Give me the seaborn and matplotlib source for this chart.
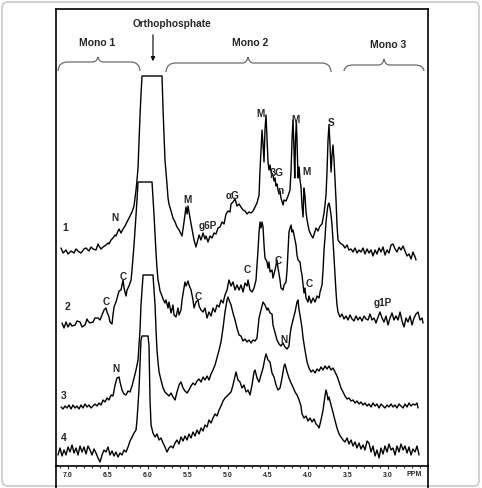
import numpy as np
import pandas as pd
import matplotlib
matplotlib.use("Agg")
import matplotlib.pyplot as plt
import seaborn as sns
from matplotlib.path import Path
from matplotlib.patches import PathPatch, FancyBboxPatch
from matplotlib.lines import Line2D
from matplotlib.ticker import MultipleLocator

# ---------------- data (chemical shift in ppm, stacked intensity) ----------------
ppm1 = [7.088, 7.062, 7.025, 7.000, 6.962, 6.925, 6.900, 6.862, 6.838, 6.800,
        6.775, 6.738, 6.712, 6.688, 6.650, 6.625, 6.612, 6.588, 6.562, 6.525,
        6.500, 6.488, 6.462, 6.438, 6.412, 6.400, 6.375, 6.362, 6.338, 6.312,
        6.288, 6.275, 6.250, 6.225, 6.200, 6.175, 6.150, 6.138, 6.125, 6.112,
        6.100, 6.088, 6.075, 5.825, 5.812, 5.800, 5.788, 5.775, 5.762, 5.750,
        5.738, 5.712, 5.688, 5.662, 5.638, 5.612, 5.588, 5.575, 5.550, 5.525,
        5.512, 5.500, 5.475, 5.450,
        5.425, 5.400, 5.375, 5.362, 5.338, 5.312, 5.288, 5.275, 5.250, 5.225,
        5.200, 5.175, 5.150, 5.125, 5.100, 5.075, 5.050, 5.025, 5.000, 4.975,
        4.962, 4.938, 4.912, 4.888, 4.862, 4.838, 4.812, 4.788, 4.762, 4.738,
        4.712, 4.688, 4.662, 4.638, 4.612, 4.600, 4.588, 4.575, 4.562, 4.550,
        4.538, 4.525, 4.512, 4.500, 4.488, 4.475, 4.462, 4.438, 4.425, 4.412,
        4.400, 4.388, 4.375, 4.362, 4.350, 4.338, 4.312, 4.300, 4.275, 4.250,
        4.225, 4.212, 4.200, 4.188, 4.175, 4.166, 4.156, 4.146, 4.138, 4.125,
        4.112, 4.100, 4.088, 4.075, 4.062, 4.050, 4.038, 4.025, 4.012, 3.988,
        3.962, 3.938, 3.900, 3.875, 3.850, 3.825, 3.800, 3.788, 3.775, 3.762,
        3.750, 3.738, 3.725, 3.712, 3.700, 3.688, 3.675, 3.662, 3.650, 3.638,
        3.625, 3.600, 3.562, 3.538, 3.512, 3.488, 3.462, 3.438, 3.412, 3.388,
        3.362, 3.338, 3.312, 3.288, 3.262, 3.238, 3.212, 3.188, 3.162, 3.138,
        3.112, 3.088, 3.062, 3.038, 3.012, 2.988, 2.962, 2.938, 2.912, 2.888,
        2.862, 2.838, 2.812, 2.788, 2.762, 2.738, 2.712, 2.688, 2.662, 2.650]
int1 = [218, 213, 216, 212, 215, 213, 217, 214, 213, 217,
        218, 215, 219, 217, 216, 222, 220, 217, 219, 221,
        223, 222, 226, 228, 231, 230, 235, 237, 233, 237,
        240, 242, 246, 250, 254, 260, 276, 286, 298, 326,
        351, 371, 390, 390, 356, 331, 306, 294, 281, 268,
        262, 255, 248, 244, 239, 236, 232, 230, 244, 259,
        252, 260, 248, 237,
        226, 219, 227, 231, 226, 233, 227, 230, 224, 230,
        228, 233, 232, 238, 239, 244, 242, 252, 255, 254,
        262, 264, 267, 260, 262, 259, 256, 255, 252, 254,
        253, 255, 259, 263, 271, 296, 316, 336, 321, 304,
        336, 351, 326, 304, 296, 301, 294, 291, 285, 288,
        280, 282, 276, 272, 275, 268, 261, 266, 265, 270,
        276, 296, 326, 346, 316, 288, 326, 345, 326, 288,
        299, 286, 279, 261, 249, 278, 270, 254, 246, 236,
        231, 228, 238, 235, 240, 242, 253, 261, 271, 296,
        326, 341, 321, 294, 311, 321, 306, 286, 266, 241,
        226, 223, 221, 218, 221, 216, 217, 214, 218, 213,
        216, 214, 218, 212, 217, 213, 216, 210, 216, 212,
        218, 214, 219, 211, 216, 213, 221, 222, 217, 214,
        219, 216, 220, 215, 210, 212, 207, 214, 209, 206]

ppm2 = [7.075, 7.050, 7.025, 7.000, 6.975, 6.950, 6.912, 6.888, 6.850, 6.825,
        6.788, 6.762, 6.750, 6.725, 6.688, 6.662, 6.625, 6.600, 6.575, 6.550,
        6.525, 6.512, 6.488, 6.475, 6.450, 6.438, 6.425, 6.400, 6.375, 6.362,
        6.338, 6.312, 6.300, 6.275, 6.262, 6.238, 6.212, 6.200, 6.188, 6.175,
        6.162, 6.150, 6.138, 6.125, 5.950, 5.938, 5.925, 5.912, 5.900, 5.888,
        5.875, 5.862, 5.850, 5.825, 5.812, 5.788, 5.775, 5.750, 5.738, 5.712,
        5.688, 5.675, 5.650, 5.625, 5.612, 5.588, 5.575, 5.550, 5.538, 5.525,
        5.500, 5.488, 5.462, 5.438, 5.425, 5.400, 5.375, 5.362, 5.338, 5.312,
        5.288, 5.262, 5.238, 5.212, 5.188, 5.162, 5.138, 5.112, 5.088, 5.062,
        5.038, 5.012, 4.988, 4.962, 4.938, 4.912, 4.888, 4.862, 4.838, 4.812,
        4.788, 4.762, 4.750, 4.725, 4.700, 4.675, 4.650, 4.625, 4.612, 4.600,
        4.588, 4.575, 4.562, 4.550, 4.538, 4.512, 4.500, 4.488, 4.475, 4.450,
        4.438, 4.412, 4.388, 4.375, 4.350, 4.338, 4.312, 4.300, 4.275, 4.262,
        4.250, 4.238, 4.225, 4.212, 4.200, 4.188, 4.162, 4.150, 4.138, 4.125,
        4.100, 4.088, 4.075, 4.062, 4.050, 4.038, 4.025, 4.000, 3.988, 3.962,
        3.938, 3.912, 3.888, 3.862, 3.850, 3.825, 3.812, 3.800, 3.788, 3.775,
        3.762, 3.750, 3.738, 3.725, 3.712, 3.700, 3.688, 3.675, 3.662, 3.650,
        3.638, 3.625, 3.600, 3.575, 3.550, 3.525, 3.500, 3.475, 3.450, 3.425,
        3.400, 3.375, 3.350, 3.325, 3.300, 3.275, 3.250, 3.225, 3.200, 3.175,
        3.150, 3.125, 3.100, 3.075, 3.050, 3.025, 3.000, 2.975, 2.950, 2.925,
        2.900, 2.875, 2.850, 2.825, 2.800, 2.775, 2.750, 2.725, 2.700, 2.675,
        2.650, 2.625, 2.600, 2.575, 2.562]
int2 = [143, 138, 144, 139, 143, 140, 141, 145, 144, 139,
        141, 147, 145, 143, 144, 148, 148, 146, 151, 156,
        158, 154, 149, 144, 142, 151, 159, 164, 171, 175,
        176, 186, 178, 170, 176, 180, 186, 196, 208, 221,
        236, 251, 266, 284, 284, 268, 251, 231, 213, 198,
        186, 181, 175, 170, 167, 163, 166, 158, 164, 153,
        161, 151, 149, 158, 151, 156, 166, 178, 184, 180,
        185, 181, 176, 166, 158, 164, 166, 160, 156, 154,
        158, 148, 154, 150, 158, 154, 161, 159, 166, 163,
        171, 176, 186, 180, 184, 176, 181, 176, 181, 174,
        183, 180, 186, 176, 174, 178, 186, 216, 234, 244,
        238, 244, 239, 221, 208, 204, 198, 204, 194, 196,
        188, 196, 206, 198, 186, 178, 176, 181, 184, 196,
        216, 234, 238, 241, 234, 236, 226, 221, 211, 206,
        204, 196, 191, 181, 173, 178, 168, 164, 170, 163,
        168, 164, 170, 168, 174, 181, 196, 216, 228, 244,
        254, 261, 263, 258, 251, 241, 226, 208, 191, 174,
        161, 154, 149, 152, 147, 150, 146, 151, 147, 145,
        150, 146, 149, 145, 150, 147, 146, 152, 146, 148,
        143, 149, 154, 148, 144, 150, 141, 148, 153, 146,
        150, 146, 154, 145, 139, 148, 144, 150, 141, 148,
        152, 154, 146, 148, 143]

ppm3 = [7.088, 7.062, 7.038, 7.012, 6.988, 6.962, 6.938, 6.912, 6.888, 6.862,
        6.838, 6.812, 6.788, 6.762, 6.738, 6.712, 6.688, 6.662, 6.638, 6.612,
        6.588, 6.562, 6.538, 6.512, 6.488, 6.462, 6.438, 6.412, 6.388, 6.362,
        6.350, 6.325, 6.300, 6.275, 6.250, 6.225, 6.200, 6.175, 6.150, 6.125,
        6.112, 6.100, 6.088, 6.062, 5.938, 5.925, 5.912, 5.900, 5.888, 5.875,
        5.862, 5.838, 5.812, 5.788, 5.762, 5.738, 5.712, 5.688, 5.662, 5.638,
        5.612, 5.588, 5.562, 5.538, 5.512, 5.488, 5.462, 5.438, 5.412, 5.388,
        5.362, 5.338, 5.312, 5.288, 5.262, 5.238, 5.212, 5.188, 5.162, 5.138,
        5.112, 5.088, 5.062, 5.038, 5.012, 5.000, 4.988, 4.962, 4.938, 4.912,
        4.888, 4.862, 4.838, 4.812, 4.788, 4.762, 4.738, 4.712, 4.688, 4.662,
        4.638, 4.625, 4.612, 4.588, 4.562, 4.538, 4.512, 4.500, 4.475, 4.450,
        4.438, 4.412, 4.388, 4.362, 4.338, 4.312, 4.288, 4.262, 4.238, 4.225,
        4.212, 4.188, 4.162, 4.138, 4.125, 4.112, 4.100, 4.075, 4.062, 4.038,
        4.012, 3.988, 3.962, 3.938, 3.912, 3.888, 3.862, 3.838, 3.812, 3.788,
        3.762, 3.738, 3.712, 3.688, 3.662, 3.638, 3.612, 3.588, 3.562, 3.538,
        3.512, 3.488, 3.462, 3.438, 3.412, 3.388, 3.362, 3.338, 3.312, 3.288,
        3.262, 3.238, 3.212, 3.188, 3.162, 3.138, 3.112, 3.088, 3.062, 3.038,
        3.012, 2.988, 2.962, 2.938, 2.912, 2.888, 2.862, 2.838, 2.812, 2.788,
        2.762, 2.738, 2.712, 2.688, 2.662, 2.638, 2.625]
int3 = [59, 57, 60, 58, 61, 57, 61, 58, 60, 57,
        61, 58, 62, 59, 61, 58, 60, 62, 60, 63,
        61, 66, 64, 68, 66, 71, 70, 81, 88, 89,
        84, 76, 72, 71, 75, 74, 80, 88, 96, 106,
        121, 136, 161, 191, 191, 176, 161, 136, 116, 104,
        94, 86, 78, 74, 72, 70, 73, 69, 66, 74,
        81, 84, 78, 75, 73, 76, 80, 83, 81, 85,
        87, 84, 89, 86, 90, 86, 92, 96, 101, 108,
        116, 124, 138, 154, 166, 169, 166, 161, 153, 146,
        138, 131, 130, 125, 127, 124, 126, 123, 126, 125,
        128, 138, 148, 156, 164, 161, 156, 158, 153, 152,
        141, 133, 126, 122, 120, 123, 119, 117, 120, 131,
        138, 146, 154, 164, 166, 156, 151, 138, 128, 116,
        104, 98, 94, 96, 93, 97, 95, 99, 96, 100,
        97, 100, 96, 98, 94, 90, 84, 78, 74, 70,
        67, 68, 65, 66, 63, 65, 62, 64, 61, 63,
        60, 62, 59, 63, 60, 62, 58, 62, 60, 58,
        61, 59, 62, 59, 61, 58, 62, 60, 58, 62,
        59, 63, 60, 62, 61, 63, 58]

ppm4 = [7.125, 7.100, 7.075, 7.050, 7.025, 7.000, 6.975, 6.950, 6.925, 6.900,
        6.875, 6.850, 6.825, 6.800, 6.775, 6.750, 6.725, 6.700, 6.675, 6.650,
        6.625, 6.600, 6.575, 6.550, 6.525, 6.500, 6.475, 6.450, 6.425, 6.400,
        6.375, 6.350, 6.325, 6.300, 6.275, 6.250, 6.225, 6.200, 6.175, 6.150,
        6.138, 6.125, 6.112, 6.100, 6.088, 6.075, 6.000, 5.988, 5.975, 5.962,
        5.938, 5.912, 5.888, 5.862, 5.838, 5.812, 5.788, 5.762, 5.738, 5.712,
        5.688, 5.662, 5.638, 5.612, 5.588, 5.562, 5.538, 5.512, 5.488, 5.462,
        5.438, 5.412, 5.388, 5.362, 5.338, 5.312, 5.288, 5.262, 5.238, 5.212,
        5.188, 5.162, 5.138, 5.112, 5.088, 5.062, 5.038, 5.012, 4.988, 4.962,
        4.938, 4.912, 4.900, 4.875, 4.850, 4.825, 4.800, 4.775, 4.750, 4.725,
        4.700, 4.675, 4.662, 4.638, 4.612, 4.588, 4.562, 4.538, 4.525, 4.500,
        4.475, 4.450, 4.425, 4.400, 4.375, 4.350, 4.325, 4.300, 4.288, 4.262,
        4.238, 4.212, 4.188, 4.162, 4.138, 4.112, 4.088, 4.075, 4.050, 4.025,
        4.000, 3.975, 3.950, 3.925, 3.900, 3.875, 3.862, 3.838, 3.812, 3.788,
        3.775, 3.762, 3.750, 3.738, 3.712, 3.688, 3.662, 3.638, 3.612, 3.588,
        3.562, 3.538, 3.512, 3.488, 3.462, 3.438, 3.412, 3.388, 3.362, 3.338,
        3.312, 3.288, 3.262, 3.238, 3.212, 3.188, 3.162, 3.138, 3.112, 3.088,
        3.062, 3.038, 3.012, 2.988, 2.962, 2.938, 2.912, 2.888, 2.862, 2.838,
        2.812, 2.788, 2.762, 2.738, 2.712, 2.688, 2.662, 2.638, 2.612]
int4 = [11, 18, 10, 16, 11, 19, 14, 21, 13, 18,
        11, 20, 14, 19, 12, 20, 16, 11, 17, 13,
        8, 4, 11, 16, 14, 19, 11, 15, 10, 14,
        9, 13, 11, 16, 14, 19, 25, 29, 33, 36,
        46, 61, 78, 101, 126, 130, 130, 121, 66, 41,
        33, 29, 32, 26, 28, 23, 19, 14, 18, 20,
        18, 23, 26, 22, 29, 25, 30, 26, 32, 28,
        34, 30, 36, 32, 38, 35, 41, 39, 46, 43,
        48, 52, 50, 56, 60, 65, 68, 70, 72, 74,
        81, 90, 94, 86, 84, 78, 81, 74, 76, 71,
        81, 94, 96, 88, 84, 91, 98, 108, 112, 106,
        104, 93, 89, 81, 76, 78, 88, 100, 102, 94,
        88, 83, 79, 74, 71, 66, 60, 52, 48, 50,
        45, 48, 44, 47, 42, 40, 38, 46, 56, 70,
        76, 72, 66, 69, 61, 54, 46, 38, 32, 29,
        26, 24, 28, 22, 26, 20, 24, 18, 23, 17,
        21, 16, 25, 23, 14, 20, 10, 16, 8, 18,
        12, 20, 14, 22, 16, 18, 11, 20, 14, 22,
        16, 20, 13, 19, 11, 17, 14, 20, 11]

spectrum_ids = ["1", "2", "3", "4"]
region_names = ["Mono 1", "Mono 2", "Mono 3"]
region_left = [7.125, 5.775, 3.55]
region_right = [6.10, 3.712, 2.55]
region_tip = [6.625, 4.75, 3.05]
tick_values = [7.0, 6.5, 6.0, 5.5, 5.0, 4.5, 4.0, 3.5, 3.0]
tick_labels = ["7.0", "6.5", "6.0", "5.5", "5.0", "4.5", "4.0", "3.5", "3.0"]

# peak annotations: (text, ppm, height)
peak_labels = [
    ("N", 6.412, 248), ("M", 5.512, 266), ("g6P", 5.25, 240), ("\u03b1G", 4.938, 270),
    ("M", 4.588, 352), ("\u03b2G", 4.40, 293), ("n", 4.35, 275), ("M", 4.162, 346),
    ("M", 4.025, 294), ("S", 3.712, 343),
    ("C", 6.525, 164), ("C", 6.312, 189), ("C", 5.375, 169), ("C", 4.762, 196),
    ("C", 4.375, 205), ("C", 3.988, 182), ("g1P", 3.062, 163),
    ("N", 6.40, 97), ("N", 4.30, 126),
]
id_pos = [(7.038, 238), (7.012, 159), (7.05, 70), (7.05, 28)]

# ---------------- styling ----------------
sns.set_style("ticks")
plt.rcParams["font.family"] = ["Liberation Sans", "DejaVu Sans"]
plt.rcParams["font.weight"] = "bold"

W, H = 482, 488
fig = plt.figure(figsize=(W / 100, H / 100), dpi=100)
fig.patch.set_facecolor("white")

# light rounded outer border
fig.add_artist(FancyBboxPatch((2 / W, 2 / H), 477 / W, 484 / H,
                              boxstyle="round,pad=0,rounding_size=0.012",
                              transform=fig.transFigure, facecolor="none",
                              edgecolor="#cdcdcd", lw=1.3))

left_px, right_px, top_px, axis_px = 55.7, 427.7, 9, 466
ax = fig.add_axes([left_px / W, (H - axis_px) / H, (right_px - left_px) / W, (axis_px - top_px) / H])
ax.set_facecolor("white")

for xs, ys in [(ppm1, int1), (ppm2, int2), (ppm3, int3), (ppm4, int4)]:
    df = pd.DataFrame({"ppm": xs, "intensity": ys})
    sns.lineplot(data=df, x="ppm", y="intensity", sort=False, estimator=None,
                 color="black", lw=1.0, ax=ax)

ax.set_xlim(7.154, 2.504)
ax.set_ylim(0, 457)
ax.set_xlabel("")
ax.set_ylabel("")
ax.set_yticks([])
ax.set_xticks(tick_values)
ax.set_xticklabels(tick_labels, fontsize=5, fontweight="bold")
ax.xaxis.set_minor_locator(MultipleLocator(0.1))
ax.tick_params(axis="x", which="major", direction="out", length=2, width=0.8, pad=2)
ax.tick_params(axis="x", which="minor", direction="out", length=1.5, width=0.7)
for sp in ax.spines.values():
    sp.set_visible(True)
    sp.set_color("black")
    sp.set_linewidth(1.2)

# frame continues below the axis line
for xp in (left_px, right_px):
    fig.add_artist(Line2D([xp / W, xp / W], [0, (H - axis_px) / H],
                          transform=fig.transFigure, color="black", lw=1.2))

ax.text(2.675, -8, "PPM", fontsize=5, fontweight="bold", ha="center", va="center")

# braces
def brace(l, r, t, y_end, y_flat, y_tip, c=0.12, ct=0.07):
    verts = [(l, y_end), (l - 0.005, y_flat), (l - c, y_flat),
             (t + ct, y_flat),
             (t + 0.015, y_flat), (t, y_tip),
             (t - 0.015, y_flat), (t - ct, y_flat),
             (r + c, y_flat),
             (r + 0.005, y_flat), (r, y_end)]
    codes = [Path.MOVETO, Path.CURVE3, Path.CURVE3, Path.LINETO,
             Path.CURVE3, Path.CURVE3, Path.CURVE3, Path.CURVE3,
             Path.LINETO, Path.CURVE3, Path.CURVE3]
    ax.add_patch(PathPatch(Path(verts, codes), facecolor="none",
                           edgecolor="#6a6a6a", lw=0.9, clip_on=False))

brace(region_left[0], region_right[0], region_tip[0], 395, 404, 409)
brace(region_left[1], region_right[1], region_tip[1], 394, 403, 409)
brace(region_left[2], region_right[2], region_tip[2], 395, 401, 407)

name_pos = [(6.638, 423), (4.725, 423), (3.0, 421)]
for name, (x, y) in zip(region_names, name_pos):
    ax.text(x, y, name, fontsize=7.5, fontweight="bold", ha="center", va="center")

ax.text(5.70, 442, "Orthophosphate", fontsize=7.3, fontweight="bold", ha="center", va="center")
ax.annotate("", xy=(5.938, 402), xytext=(5.938, 434),
            arrowprops=dict(arrowstyle="-|>", color="black", lw=0.8, mutation_scale=6))

for sid, (x, y) in zip(spectrum_ids, id_pos):
    ax.text(x, y, sid, fontsize=7.5, fontweight="bold", ha="center", va="center")

for txt, x, y in peak_labels:
    ax.text(x, y, txt, fontsize=7.2, fontweight="bold", ha="center", va="center")

fig.savefig("out.png", dpi=100, facecolor="white")
